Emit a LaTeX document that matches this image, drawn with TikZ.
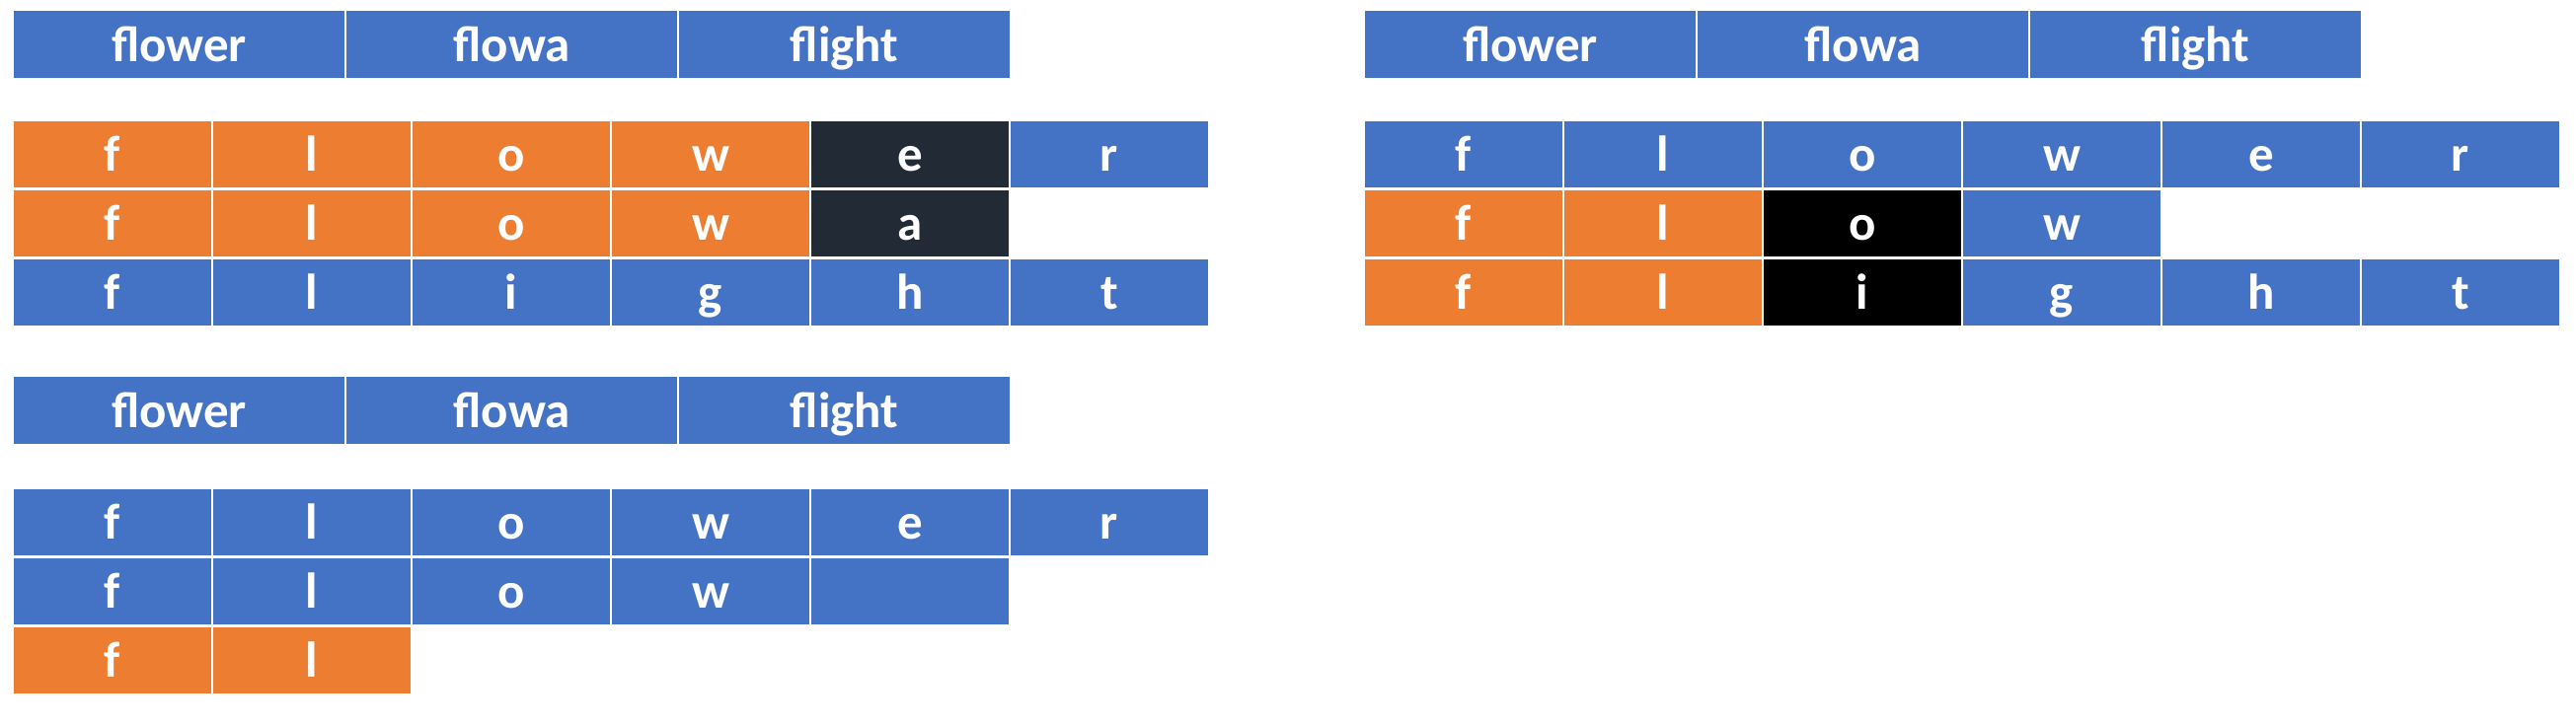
\documentclass[tikz,border=0pt]{standalone}
\usepackage{fontspec}
\setmainfont{Carlito}
\usepackage{xcolor}
\usepackage{tikz}
\usetikzlibrary{positioning}
\definecolor{cellblue}{HTML}{4472C4}
\definecolor{cellorange}{HTML}{ED7D31}
\definecolor{celldark}{HTML}{222A35}
\tikzset{every picture/.style={line width=0.5pt},
  cell/.style={draw=white, inner sep=0pt, minimum width=2.02cm, minimum height=0.69cm,
    text=white, text height=0.38cm, text depth=0.04cm,
    font=\fontsize{14.5}{17}\selectfont\bfseries},
  word/.style={cell, minimum width=3.37cm, fill=cellblue},
  blu/.style={cell, fill=cellblue},
  org/.style={cell, fill=cellorange},
  drk/.style={cell, fill=celldark},
  blk/.style={cell, fill=black}}

\begin{document}
\begin{tikzpicture}
\useasboundingbox (0,0) rectangle (26.1,-7.36);
% top left
\node[word] (ah1) at (1.815,-0.45) {flower};
\node[word] (ah2) at (5.185,-0.45) {flowa};
\node[word] (ah3) at (8.555,-0.45) {flight};
%
\node[org] (a11) at (1.14,-1.565) {f};
\node[org] (a12) at (3.16,-1.565) {l};
\node[org] (a13) at (5.18,-1.565) {o};
\node[org] (a14) at (7.20,-1.565) {w};
\node[drk] (a15) at (9.22,-1.565) {e};
\node[blu] (a16) at (11.24,-1.565) {r};
%
\node[org] (a21) at (1.14,-2.265) {f};
\node[org] (a22) at (3.16,-2.265) {l};
\node[org] (a23) at (5.18,-2.265) {o};
\node[org] (a24) at (7.20,-2.265) {w};
\node[drk] (a25) at (9.22,-2.265) {a};
%
\node[blu] (a31) at (1.14,-2.965) {f};
\node[blu] (a32) at (3.16,-2.965) {l};
\node[blu] (a33) at (5.18,-2.965) {i};
\node[blu] (a34) at (7.20,-2.965) {g};
\node[blu] (a35) at (9.22,-2.965) {h};
\node[blu] (a36) at (11.24,-2.965) {t};
%
% bottom left
\node[word] (bh1) at (1.815,-4.16) {flower};
\node[word] (bh2) at (5.185,-4.16) {flowa};
\node[word] (bh3) at (8.555,-4.16) {flight};
%
\node[blu] (b11) at (1.14,-5.295) {f};
\node[blu] (b12) at (3.16,-5.295) {l};
\node[blu] (b13) at (5.18,-5.295) {o};
\node[blu] (b14) at (7.20,-5.295) {w};
\node[blu] (b15) at (9.22,-5.295) {e};
\node[blu] (b16) at (11.24,-5.295) {r};
%
\node[blu] (b21) at (1.14,-5.995) {f};
\node[blu] (b22) at (3.16,-5.995) {l};
\node[blu] (b23) at (5.18,-5.995) {o};
\node[blu] (b24) at (7.20,-5.995) {w};
\node[blu] (b25) at (9.22,-5.995) {};
%
\node[org] (b31) at (1.14,-6.695) {f};
\node[org] (b32) at (3.16,-6.695) {l};
%
% right
\node[word] (ch1) at (15.505,-0.45) {flower};
\node[word] (ch2) at (18.875,-0.45) {flowa};
\node[word] (ch3) at (22.245,-0.45) {flight};
%
\node[blu] (c11) at (14.83,-1.565) {f};
\node[blu] (c12) at (16.85,-1.565) {l};
\node[blu] (c13) at (18.87,-1.565) {o};
\node[blu] (c14) at (20.89,-1.565) {w};
\node[blu] (c15) at (22.91,-1.565) {e};
\node[blu] (c16) at (24.93,-1.565) {r};
%
\node[org] (c21) at (14.83,-2.265) {f};
\node[org] (c22) at (16.85,-2.265) {l};
\node[blk] (c23) at (18.87,-2.265) {o};
\node[blu] (c24) at (20.89,-2.265) {w};
%
\node[org] (c31) at (14.83,-2.965) {f};
\node[org] (c32) at (16.85,-2.965) {l};
\node[blk] (c33) at (18.87,-2.965) {i};
\node[blu] (c34) at (20.89,-2.965) {g};
\node[blu] (c35) at (22.91,-2.965) {h};
\node[blu] (c36) at (24.93,-2.965) {t};
\end{tikzpicture}
\end{document}
